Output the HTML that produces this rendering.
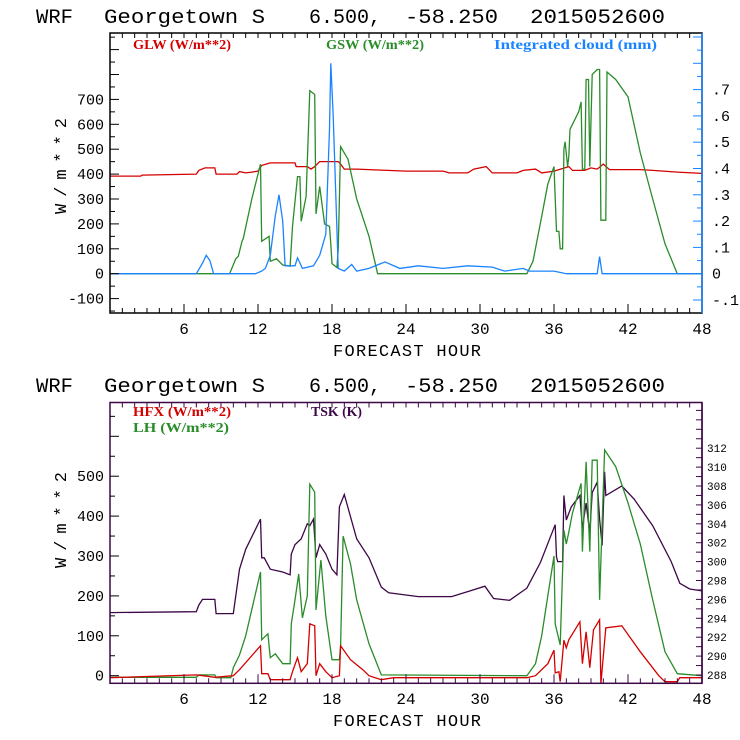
<!DOCTYPE html>
<html><head><meta charset="utf-8"><style>
html,body{margin:0;padding:0;background:#fff;}
svg{display:block;}
text{font-family:"Liberation Mono",monospace;}
.lg{font-family:"Liberation Serif",serif;font-weight:bold;font-size:14px;}
</style></head><body>
<svg id="chart" width="740" height="740" viewBox="0 0 740 740" xmlns="http://www.w3.org/2000/svg"></svg>
<script>
// ---------- TOP PANEL DATA ----------
const glwHours = [0,2.5,2.6,7,7.2,7.7,8.5,8.6,10.3,10.5,11,11.5,12,12.3,13,15,15.1,16,16.3,16.6,17,18.5,18.7,19,20,21,22,24,27,27.5,29,29.5,30,30.5,31,33,33.5,34.5,35,36,37.2,37.5,38.5,39,39.5,40,40.5,43,44,46,48];
const glwValues = [392,392,396,400,415,425,425,400,400,410,405,408,412,435,445,445,430,430,420,430,450,450,440,420,420,418,416,412,412,405,405,420,425,430,405,405,415,420,405,412,430,415,415,425,420,440,418,418,415,408,403];

const gswHours = [0,9.7,10.2,10.4,10.7,10.8,11.5,12.2,12.3,12.9,13,13.5,14,14.6,14.8,15.2,15.4,15.5,15.9,16.2,16.6,16.7,17,17.4,17.8,17.9,18,18.4,18.5,18.7,19.3,20,21,21.7,33.8,34.3,35,35.5,36,36.2,36.4,36.5,36.7,36.8,36.9,37.1,37.2,37.3,38,38.2,38.3,38.5,38.6,38.8,38.9,39.1,39.5,39.7,39.8,40.2,40.3,41,42,43,44,45,46,48];
const gswValues = [0,0,60,70,130,140,300,440,130,150,50,60,35,30,190,390,390,210,310,735,720,240,350,200,190,120,40,25,95,510,460,300,150,0,0,50,230,360,430,170,170,100,100,500,530,430,470,580,650,690,420,420,780,780,430,800,820,820,215,215,810,780,710,485,300,120,0,0];

const cloudHours = [0,7,7.5,7.8,8.1,8.4,11.8,12.3,12.6,13,13.4,13.7,14,14.2,15,15.2,15.6,16.5,17,17.5,17.8,17.9,18.1,18.5,19,19.6,20,21,22.3,23.5,25,27,29,31,32,33.5,34,36,37,39.5,39.7,39.9,40.2,48];
const cloudValues = [0,0,0.04,0.07,0.05,0,0,0.01,0.02,0.07,0.22,0.3,0.2,0.03,0.03,0.06,0.02,0.03,0.07,0.15,0.55,0.8,0.6,0.02,0.01,0.035,0.01,0.02,0.045,0.02,0.03,0.02,0.03,0.025,0.01,0.02,0.01,0.01,0,0,0.065,0,0,0];

// ---------- BOTTOM PANEL DATA ----------
const tskHours = [0,7,7.2,7.5,8.5,8.6,10,10.5,11,12.2,12.3,12.5,13,14,14.6,14.7,15,15.5,16,16.2,16.5,16.7,17,17.5,18,18.4,18.6,19,20,21,22,22.6,25,27.7,29.2,30.4,31.1,32.4,33.8,34.9,36.1,36.2,36.3,36.7,36.8,37,37.4,38.1,38.3,38.6,38.9,39.1,39.5,39.7,39.9,40.1,40.2,41.5,42.5,44,45.5,46.2,47,48];
const tskValues = [294.6,294.7,295.4,296,296,294.5,294.5,299.2,301.3,304.5,300.4,300.4,299.2,298.9,298.6,300.8,301.8,302.4,304,303.8,304.5,300.4,301.8,300.8,299.2,298.6,305.8,307.1,302.4,300.4,297.3,296.7,296.3,296.3,296.9,297.4,296.1,295.9,297.2,299.9,303.9,300.5,300,300,307,304.4,305.8,307,303.5,306.2,303,307.3,308.4,304.5,301.7,309.5,307,308,306.6,303.8,300,297.7,297.1,296.9];

const lhHours = [0,7,7.2,8.5,8.6,9.8,10,10.5,11,12.2,12.3,12.8,13,13.4,14,14.6,14.7,15,15.3,15.6,16,16.2,16.6,16.7,17.1,17.5,18,18.6,18.7,18.9,19.5,20,21,22,33.8,34.5,35,35.5,36,36.1,36.5,36.8,37,37.2,37.5,38.2,38.3,38.6,38.9,39.1,39.5,39.7,40.1,41,42,43,44,45,46,48];
const lhValues = [-4,-4,2,2,-5,-5,20,52,100,260,90,105,45,55,30,30,130,190,255,145,200,480,460,165,290,150,40,40,75,350,280,190,80,2,0,30,100,200,300,130,77,365,330,360,408,482,311,536,311,540,540,190,566,524,433,330,190,60,5,0];

const hfxHours = [0,7,8.5,10,10.5,12.2,12.3,12.8,13,14.6,14.8,15.2,15.5,16,16.2,16.6,16.7,17,17.5,18,18.6,18.7,19.5,20.5,21,22,23,33.8,34.5,35.5,36,36.1,36.4,36.5,36.8,37,37.2,38.1,38.3,38.6,38.9,39.2,39.7,39.8,40.2,41.5,43,44.5,45,46,46.2,48];
const hfxValues = [-5,2,-4,0,15,75,5,5,-10,-10,10,45,10,30,130,125,0,30,10,-5,0,75,40,15,0,-10,-5,-5,0,30,64,7,10,-15,89,70,90,135,30,110,20,115,140,-20,120,125,60,0,-15,-15,-5,-5];

// tick label arrays
const hourTicks = [6,12,18,24,30,36,42,48];
const topLeftTicks = [-100,0,100,200,300,400,500,600,700];
const topRightTicks = [-0.1,0,0.1,0.2,0.3,0.4,0.5,0.6,0.7];
const botLeftTicks = [0,100,200,300,400,500];
const botRightTicks = [288,290,292,294,296,298,300,302,304,306,308,310,312];

const NS = "http://www.w3.org/2000/svg";
const svg = document.getElementById("chart");
function mk(tag, parent){const e=document.createElementNS(NS,tag);parent.appendChild(e);return e;}

const X0=110, X1=702;
const xs = h => X0 + h*(X1-X0)/48;
const T_TOP=33, T_BOT=313;
const yTopW = v => 273.7 - v*0.249;
const yTopC = c => 273.7 - c*263;
const B_TOP=402.5, B_BOT=683.3;
const yBotW = v => 675.7 - v*0.399;
const yBotT = t => 675 - (t-288)*9.45;

const titleWords = ["WRF","Georgetown S","6.500,","-58.250","2015052600"];
const titleX = [36,104,309,405,530];
const titleW = [37,161,72,93,135];
function title(y, name){
  const g=mk("g",svg);
  
  
  titleWords.forEach((w,i)=>{
    const t=mk("text",g);
    t.setAttribute("x",titleX[i]);t.setAttribute("y",y);t.setAttribute("font-size","20");
    t.setAttribute("textLength",titleW[i]);t.setAttribute("lengthAdjust","spacingAndGlyphs");
    t.textContent=w;
  });
}
title(23,'top-chart-title');
title(392,'bottom-chart-title');

function clip(id,top,bot){
  const c=mk("clipPath",svg);c.setAttribute("id",id);
  const r=mk("rect",c);r.setAttribute("x",X0);r.setAttribute("y",top);r.setAttribute("width",X1-X0);r.setAttribute("height",bot-top);
}
clip("cTop",T_TOP,T_BOT);clip("cBot",B_TOP,B_BOT);

function series(hours, vals, yf, color, cid, name){
  const p=mk("polyline",svg);
  
  
  p.setAttribute("points",hours.map((h,i)=>xs(h).toFixed(1)+","+yf(vals[i]).toFixed(1)).join(" "));
  p.setAttribute("fill","none");p.setAttribute("stroke",color);p.setAttribute("stroke-width","1.3");
  p.setAttribute("clip-path","url(#"+cid+")");
}

function frame(top,bot,color,rightColor,name){
  const r=mk("rect",svg);
  
  
  r.setAttribute("x",X0);r.setAttribute("y",top);r.setAttribute("width",X1-X0);r.setAttribute("height",bot-top);
  r.setAttribute("fill","none");r.setAttribute("stroke",color);r.setAttribute("stroke-width","1.5");
  const l=mk("line",svg);l.setAttribute("x1",X1);l.setAttribute("x2",X1);l.setAttribute("y1",top);l.setAttribute("y2",bot);
  l.setAttribute("stroke",rightColor);l.setAttribute("stroke-width","1.5");
  for(let h=1;h<48;h++){
    const x=xs(h);
    const a=mk("line",svg);a.setAttribute("x1",x);a.setAttribute("x2",x);a.setAttribute("y1",top);a.setAttribute("y2",top+5);a.setAttribute("stroke",color);
    const b=mk("line",svg);b.setAttribute("x1",x);b.setAttribute("x2",x);b.setAttribute("y1",bot);b.setAttribute("y2",bot-(h%6==0?9:5));b.setAttribute("stroke",color);
  }
}
function hline(x,y,len,color){const a=mk("line",svg);a.setAttribute("x1",x);a.setAttribute("x2",x+len);a.setAttribute("y1",y);a.setAttribute("y2",y);a.setAttribute("stroke",color);}
function label(x,y,txt,anchor,size,color,name){
  const t=mk("text",svg);
  
  
  t.setAttribute("x",x);t.setAttribute("y",y);t.setAttribute("text-anchor",anchor);t.setAttribute("font-size",size);t.setAttribute("fill",color||"#000");t.textContent=txt;return t;
}
function legend(x,y,txt,color,w,name){
  const t=mk("text",svg);
  
  
  t.setAttribute("class","lg");t.setAttribute("x",x);t.setAttribute("y",y);t.setAttribute("fill",color);
  t.setAttribute("textLength",w);t.setAttribute("lengthAdjust","spacingAndGlyphs");
  t.textContent=txt;
}
function xaxisLabels(y,y2,name){
  hourTicks.forEach(h=>label(xs(h),y,String(h),"middle","16","#000",'x-tick-'+h));
  label(407,y2,"FORECAST HOUR","middle","17","#000",name).setAttribute("textLength","148");
}
function ytitle(cy,name){
  const t=label(0,0,"W/m**2","middle","17","#000",name);
  t.setAttribute("transform","translate(66,"+cy+") rotate(-90)");t.setAttribute("textLength","96");
}

const RED="#d40000",GREEN="#2a8c2a",BLUE="#1a84ff",PURP="#3c0846";
series(glwHours,glwValues,yTopW,RED,"cTop",'glw-line');
series(gswHours,gswValues,yTopW,GREEN,"cTop",'gsw-line');
series(cloudHours,cloudValues,yTopC,BLUE,"cTop",'cloud-line');
frame(T_TOP,T_BOT,"#000",BLUE,'top-plot-frame');
for(let v=-150;v<=950;v+=50){const y=yTopW(v);if(y>T_TOP&&y<T_BOT)hline(X0,y,v%100==0?9:5,"#000");}
for(let c=-0.15;c<=0.92;c+=0.05){const y=yTopC(c);if(y>T_TOP+1&&y<T_BOT-1)hline(X1-(Math.round(c*100)%10==0?9:5),y,Math.round(c*100)%10==0?9:5,BLUE);}
topLeftTicks.forEach(v=>label(104,yTopW(v)+5,String(v),"end","15","#000",'top-y-tick-'+v));
topRightTicks.forEach(c=>label(712,yTopC(c)+5,(c<0?"-":"")+(c==0?"0":"."+Math.round(Math.abs(c)*10)),"start","15","#000",'top-y2-tick'));
xaxisLabels(334,356,'top-x-axis-title');
ytitle(166,'top-y-axis-title');
legend(133,49,"GLW (W/m**2)",RED,98,'legend-glw');
legend(326,49,"GSW (W/m**2)",GREEN,98,'legend-gsw');
legend(494,49,"Integrated cloud (mm)",BLUE,163,'legend-cloud');

series(tskHours,tskValues,yBotT,PURP,"cBot",'tsk-line');
series(lhHours,lhValues,yBotW,GREEN,"cBot",'lh-line');
series(hfxHours,hfxValues,yBotW,RED,"cBot",'hfx-line');
frame(B_TOP,B_BOT,PURP,PURP,'bottom-plot-frame');
for(let v=0;v<=650;v+=50){const y=yBotW(v);if(y>B_TOP&&y<B_BOT)hline(X0,y,v%100==0?9:5,"#000");}
for(let t=288;t<=317;t++){const y=yBotT(t);if(y>B_TOP+1&&y<B_BOT-1)hline(X1-6,y,6,PURP);}
botLeftTicks.forEach(v=>label(104,yBotW(v)+5,String(v),"end","15","#000",'bottom-y-tick-'+v));
botRightTicks.forEach(t=>label(707,yBotT(t)+4,String(t),"start","11","#000",'bottom-y2-tick-'+t));
xaxisLabels(704,726,'bottom-x-axis-title');
ytitle(520,'bottom-y-axis-title');
legend(133,416,"HFX (W/m**2)",RED,98,'legend-hfx');
legend(133,432,"LH  (W/m**2)",GREEN,96,'legend-lh');
legend(311,416,"TSK (K)",PURP,51,'legend-tsk');
</script>
</body></html>
